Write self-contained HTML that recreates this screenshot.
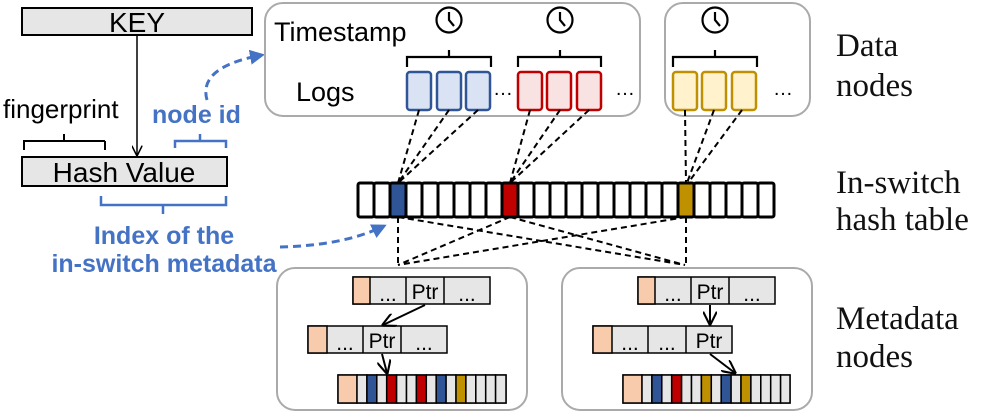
<!DOCTYPE html>
<html><head><meta charset="utf-8"><style>
html,body{margin:0;padding:0;background:#fff;}
svg{display:block;}
text{font-family:"Liberation Sans",sans-serif;}
.serif{font-family:"Liberation Serif",serif;font-size:33px;fill:#111;}
.blue{fill:#4472c4;font-weight:bold;font-size:25px;}
</style></head><body>
<svg width="997" height="415" viewBox="0 0 997 415" xmlns="http://www.w3.org/2000/svg">
<defs>
<marker id="ab" viewBox="0 0 10 10" refX="8" refY="5" markerWidth="5" markerHeight="5" orient="auto"><path d="M0,0 L10,5 L0,10 z" fill="#4472c4"/></marker>
<marker id="ak" viewBox="0 0 10 10" refX="9" refY="5" markerWidth="7" markerHeight="7" orient="auto"><path d="M0,0 L10,5 L0,10" fill="none" stroke="#000" stroke-width="1.5"/></marker>
</defs>
<rect x="22" y="8" width="230" height="27" fill="#e6e6e6" stroke="#000" stroke-width="2"/>
<text x="137" y="32" font-size="28" text-anchor="middle">KEY</text>
<line x1="137" y1="36" x2="137" y2="155" stroke="#000" stroke-width="1.5" marker-end="url(#ak)"/>
<rect x="22" y="157" width="205" height="29" fill="#e6e6e6" stroke="#000" stroke-width="2"/>
<text x="124" y="182" font-size="28" text-anchor="middle">Hash Value</text>
<text x="3" y="118" font-size="26">fingerprint</text>
<path d="M24,150 V141 H105 V141 M64,141 V134 M105,150 V141" fill="none" stroke="#000" stroke-width="2"/>
<text x="152" y="123" class="blue">node id</text>
<path d="M175,148 V141 H226 V148 M200,141 V134" fill="none" stroke="#4472c4" stroke-width="2.5"/>
<path d="M101,196 V205 H226 V196 M163,205 V214" fill="none" stroke="#4472c4" stroke-width="2.5"/>
<text x="164" y="244" class="blue" text-anchor="middle">Index of the</text>
<text x="164" y="272" class="blue" text-anchor="middle">in-switch metadata</text>
<path d="M207,100 C200,75 225,62 262,55" fill="none" stroke="#4472c4" stroke-width="3" stroke-dasharray="8,5" marker-end="url(#ab)"/>
<path d="M280,247 C320,246 355,240 384,226" fill="none" stroke="#4472c4" stroke-width="3" stroke-dasharray="8,5" marker-end="url(#ab)"/>
<rect x="265" y="3" width="375" height="113" rx="18" fill="#fff" stroke="#aaa" stroke-width="2"/>
<rect x="665" y="3" width="145" height="113" rx="18" fill="#fff" stroke="#aaa" stroke-width="2"/>
<text x="274" y="41" font-size="27">Timestamp</text>
<text x="296" y="101" font-size="27">Logs</text>
<g stroke-width="2.5">
<g fill="#dae3f3" stroke="#2f5597"><rect x="407" y="72" width="24" height="38" rx="3"/><rect x="437" y="72" width="24" height="38" rx="3"/><rect x="466" y="72" width="24" height="38" rx="3"/></g>
<g fill="#f9e2e2" stroke="#c00000"><rect x="518" y="72" width="24" height="38" rx="3"/><rect x="547" y="72" width="24" height="38" rx="3"/><rect x="577" y="72" width="24" height="38" rx="3"/></g>
<g fill="#fff2cc" stroke="#bf9000"><rect x="673" y="72" width="24" height="38" rx="3"/><rect x="702" y="72" width="24" height="38" rx="3"/><rect x="732" y="72" width="24" height="38" rx="3"/></g>
</g>
<text x="493" y="95" font-size="20">…</text>
<text x="615" y="95" font-size="20">…</text>
<text x="773" y="95" font-size="20">…</text>
<g fill="none" stroke="#000" stroke-width="2.2">
<path d="M407,67 V57 H491 V67 M449,57 V50"/>
<path d="M518,67 V57 H601 V67 M560,57 V50"/>
<path d="M673,67 V57 H757 V67 M715,57 V50"/>
<circle cx="449" cy="20" r="12.5"/><path d="M449,12 V20 L454,26"/>
<circle cx="560" cy="20" r="12.5"/><path d="M560,12 V20 L565,26"/>
<circle cx="715" cy="20" r="12.5"/><path d="M715,12 V20 L720,26"/>
</g>
<g stroke="#000" stroke-width="2" stroke-dasharray="6,4" fill="none">
<path d="M419,110 L398,183 M449,110 L398,183 M478,110 L398,183"/>
<path d="M530,110 L510,183 M560,110 L510,183 M589,110 L510,183"/>
<path d="M685,110 L686,183 M714,110 L687,183 M742,110 L688,183"/>
<path d="M398,217 V268 M398,217 L685,265 M510,217 L398,265 M510,217 L685,265 M686,217 L398,265 M686,217 V268"/>
</g>
<g stroke="#000" stroke-width="3">
<g fill="#fff">
<rect x="358" y="183" width="16" height="34" rx="2"/><rect x="374" y="183" width="16" height="34" rx="2"/><rect x="390" y="183" width="16" height="34" rx="2" fill="#2f5597"/><rect x="406" y="183" width="16" height="34" rx="2"/><rect x="422" y="183" width="16" height="34" rx="2"/><rect x="438" y="183" width="16" height="34" rx="2"/><rect x="454" y="183" width="16" height="34" rx="2"/><rect x="470" y="183" width="16" height="34" rx="2"/><rect x="486" y="183" width="16" height="34" rx="2"/><rect x="502" y="183" width="16" height="34" rx="2" fill="#c00000"/><rect x="518" y="183" width="16" height="34" rx="2"/><rect x="534" y="183" width="16" height="34" rx="2"/><rect x="550" y="183" width="16" height="34" rx="2"/><rect x="566" y="183" width="16" height="34" rx="2"/><rect x="582" y="183" width="16" height="34" rx="2"/><rect x="598" y="183" width="16" height="34" rx="2"/><rect x="614" y="183" width="16" height="34" rx="2"/><rect x="630" y="183" width="16" height="34" rx="2"/><rect x="646" y="183" width="16" height="34" rx="2"/><rect x="662" y="183" width="16" height="34" rx="2"/><rect x="678" y="183" width="16" height="34" rx="2" fill="#bf9000"/><rect x="694" y="183" width="16" height="34" rx="2"/><rect x="710" y="183" width="16" height="34" rx="2"/><rect x="726" y="183" width="16" height="34" rx="2"/><rect x="742" y="183" width="16" height="34" rx="2"/><rect x="758" y="183" width="16" height="34" rx="2"/>
</g></g>
<rect x="277" y="268" width="250" height="142" rx="18" fill="#fff" stroke="#aaa" stroke-width="2"/>
<rect x="562" y="268" width="250" height="142" rx="18" fill="#fff" stroke="#aaa" stroke-width="2"/>
<g stroke="#000" stroke-width="1.5">
<rect x="353" y="277" width="137" height="27" fill="#e6e6e6"/><rect x="353" y="277" width="17" height="27" fill="#f8cbad"/>
<line x1="406" y1="277" x2="406" y2="304"/><line x1="444" y1="277" x2="444" y2="304"/>
<rect x="308" y="326" width="139" height="27" fill="#e6e6e6"/><rect x="308" y="326" width="19" height="27" fill="#f8cbad"/>
<line x1="363" y1="326" x2="363" y2="353"/><line x1="401" y1="326" x2="401" y2="353"/>
<rect x="638" y="277" width="137" height="27" fill="#e6e6e6"/><rect x="638" y="277" width="17" height="27" fill="#f8cbad"/>
<line x1="691" y1="277" x2="691" y2="304"/><line x1="729" y1="277" x2="729" y2="304"/>
<rect x="593" y="326" width="139" height="27" fill="#e6e6e6"/><rect x="593" y="326" width="19" height="27" fill="#f8cbad"/>
<line x1="648" y1="326" x2="648" y2="353"/><line x1="686" y1="326" x2="686" y2="353"/>
</g>
<g font-size="21" fill="#000" text-anchor="middle">
<text x="388" y="301">...</text><text x="425" y="299">Ptr</text><text x="467" y="301">...</text>
<text x="345" y="350">...</text><text x="382" y="348">Ptr</text><text x="424" y="350">...</text>
<text x="673" y="301">...</text><text x="710" y="299">Ptr</text><text x="752" y="301">...</text>
<text x="630" y="350">...</text><text x="667" y="350">...</text><text x="709" y="348">Ptr</text>
</g>
<g stroke="#000" stroke-width="2" fill="none" marker-end="url(#ak)">
<line x1="425" y1="305" x2="383" y2="325"/>
<line x1="382" y1="354" x2="387" y2="373"/>
<line x1="710" y1="305" x2="710" y2="324"/>
<line x1="710" y1="354" x2="735" y2="373"/>
</g>
<g stroke="#000" stroke-width="1.5">
<rect x="338" y="375" width="168" height="28" fill="#e6e6e6"/><rect x="338" y="375" width="19" height="28" fill="#f8cbad"/>
<rect x="623" y="375" width="167" height="28" fill="#e6e6e6"/><rect x="623" y="375" width="19" height="28" fill="#f8cbad"/>
</g>
<g stroke="#000" stroke-width="1.5" fill="#e6e6e6">
<rect x="357" y="375" width="9.9" height="28"/><rect x="366.9" y="375" width="9.9" height="28" fill="#2f5597"/><rect x="376.8" y="375" width="9.9" height="28"/><rect x="386.7" y="375" width="9.9" height="28" fill="#c00000"/><rect x="396.6" y="375" width="9.9" height="28"/><rect x="406.5" y="375" width="9.9" height="28"/><rect x="416.4" y="375" width="9.9" height="28" fill="#c00000"/><rect x="426.3" y="375" width="9.9" height="28"/><rect x="436.2" y="375" width="9.9" height="28" fill="#2f5597"/><rect x="446.1" y="375" width="9.9" height="28"/><rect x="456" y="375" width="9.9" height="28" fill="#bf9000"/><rect x="465.9" y="375" width="9.9" height="28"/><rect x="475.8" y="375" width="9.9" height="28"/><rect x="485.7" y="375" width="9.9" height="28"/><rect x="495.6" y="375" width="10.4" height="28"/>
<rect x="642" y="375" width="9.9" height="28"/><rect x="651.9" y="375" width="9.9" height="28" fill="#2f5597"/><rect x="661.8" y="375" width="9.9" height="28"/><rect x="671.7" y="375" width="9.9" height="28" fill="#c00000"/><rect x="681.6" y="375" width="9.9" height="28"/><rect x="691.5" y="375" width="9.9" height="28"/><rect x="701.4" y="375" width="9.9" height="28" fill="#bf9000"/><rect x="711.3" y="375" width="9.9" height="28"/><rect x="721.2" y="375" width="9.9" height="28" fill="#2f5597"/><rect x="731.1" y="375" width="9.9" height="28"/><rect x="741" y="375" width="9.9" height="28" fill="#bf9000"/><rect x="750.9" y="375" width="9.9" height="28"/><rect x="760.8" y="375" width="9.9" height="28"/><rect x="770.7" y="375" width="9.9" height="28"/><rect x="780.6" y="375" width="9.4" height="28"/>
</g>
<text x="836" y="56" class="serif">Data</text>
<text x="836" y="96" class="serif">nodes</text>
<text x="836" y="193" class="serif">In-switch</text>
<text x="836" y="230" class="serif">hash table</text>
<text x="836" y="329" class="serif">Metadata</text>
<text x="836" y="367" class="serif">nodes</text>
</svg>
</body></html>
